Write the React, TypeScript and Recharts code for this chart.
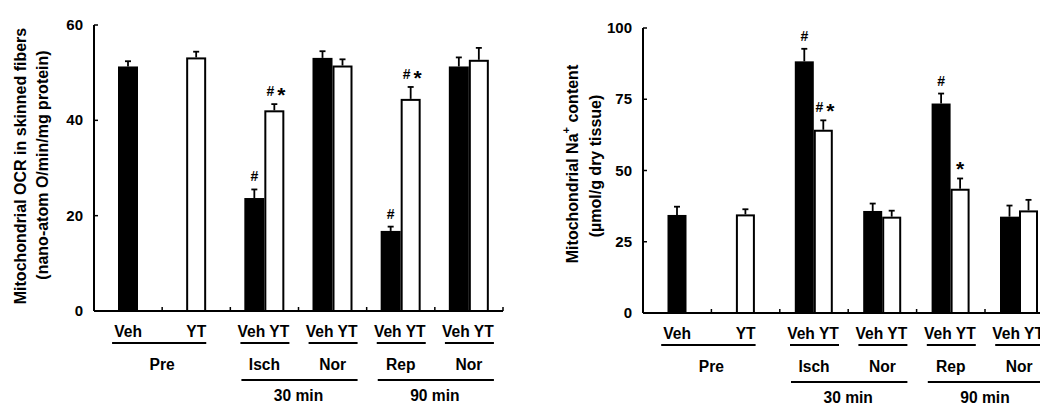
import React from 'react';
import { BarChart, Bar, XAxis, YAxis } from 'recharts';

const categories = ['PreVeh', 'PreYT', 'Isch30', 'Nor30', 'Rep90', 'Nor90'];
const conditionLabels = ['Veh', 'YT', 'Veh YT', 'Veh YT', 'Veh YT', 'Veh YT'];
const groupLabels = ['Pre', '', 'Isch', 'Nor', 'Rep', 'Nor'];
const timeLabels = ['', '', '30 min', '', '90 min', ''];

const ocrVeh = [51.3, null, 23.7, 53.1, 16.8, 51.3];
const ocrVehErr = [1.1, 0, 1.8, 1.4, 0.9, 1.9];
const ocrYT = [null, 53.2, 42.1, 51.5, 44.5, 52.7];
const ocrYTErr = [0, 1.2, 1.3, 1.3, 2.5, 2.5];
const ocrVehSig = ['', '', '#', '', '#', ''];
const ocrYTSig = ['', '', '#*', '', '#*', ''];
const ocrTicks = [0, 20, 40, 60];

const naVeh = [34.4, null, 88.3, 35.8, 73.5, 33.8];
const naVehErr = [2.9, 0, 4.4, 2.6, 3.5, 3.9];
const naYT = [null, 34.6, 64.3, 33.8, 43.6, 36.0];
const naYTErr = [0, 1.8, 3.3, 2.1, 3.6, 3.7];
const naVehSig = ['', '', '#', '', '#', ''];
const naYTSig = ['', '', '#*', '', '*', ''];
const naTicks = [0, 25, 50, 75, 100];

const FONT = '"Liberation Sans", Arial, Helvetica, sans-serif';

type Row = {
  cat: string;
  veh: number | null;
  yt: number | null;
  vehErr: number;
  ytErr: number;
  vehSig: string;
  ytSig: string;
};

const buildRows = (
  veh: (number | null)[],
  vehErr: number[],
  yt: (number | null)[],
  ytErr: number[],
  vehSig: string[],
  ytSig: string[]
): Row[] =>
  categories.map((cat, i) => ({
    cat,
    veh: veh[i],
    yt: yt[i],
    vehErr: vehErr[i],
    ytErr: ytErr[i],
    vehSig: vehSig[i],
    ytSig: ytSig[i],
  }));

const ocrRows = buildRows(ocrVeh, ocrVehErr, ocrYT, ocrYTErr, ocrVehSig, ocrYTSig);
const naRows = buildRows(naVeh, naVehErr, naYT, naYTErr, naVehSig, naYTSig);

const Sig = ({ sig, cx, top }: { sig: string; cx: number; top: number }) => {
  const hasHash = sig.includes('#');
  const hasStar = sig.includes('*');
  const both = hasHash && hasStar;
  return (
    <g fontFamily={FONT} fontWeight="bold" fill="#000">
      {hasHash && (
        <text x={both ? cx - 4 : cx} y={top - 8} textAnchor="middle" fontSize={14}>
          #
        </text>
      )}
      {hasStar && (
        <text x={both ? cx + 7 : cx} y={top - 2} textAnchor="middle" fontSize={21}>
          *
        </text>
      )}
    </g>
  );
};

const makeShape = (key: 'veh' | 'yt') => (props: any) => {
  const { x, y, width, height, payload } = props;
  if (!payload) return <g />;
  const val = payload[key];
  if (val == null || !height) return <g />;
  const err = key === 'veh' ? payload.vehErr : payload.ytErr;
  const sig = key === 'veh' ? payload.vehSig : payload.ytSig;
  const otherNull = key === 'veh' ? payload.yt == null : payload.veh == null;
  let bx = x;
  if (otherNull) bx = key === 'veh' ? x + width / 2 : x - width / 2;
  const cx = bx + width / 2;
  const ppu = height / val;
  const errTop = y - err * ppu;
  const black = key === 'veh';
  return (
    <g>
      {err > 0 && (
        <g stroke="#000" strokeWidth={1.8}>
          <line x1={cx} x2={cx} y1={y} y2={errTop} />
          <line x1={cx - 3} x2={cx + 3} y1={errTop} y2={errTop} />
        </g>
      )}
      <rect
        x={bx + 1}
        y={y + 1}
        width={width - 2}
        height={height - 1}
        fill={black ? '#000' : '#fff'}
        stroke="#000"
        strokeWidth={2}
      />
      {sig && <Sig sig={sig} cx={cx} top={errTop} />}
    </g>
  );
};

const YTick = (props: any) => {
  const { x, y, payload } = props;
  return (
    <g>
      <line x1={x} x2={x + 4} y1={y} y2={y} stroke="#000" strokeWidth={1.5} />
      <text
        x={x - 11}
        y={y}
        dy={5}
        textAnchor="end"
        fontFamily={FONT}
        fontWeight="bold"
        fontSize={15}
        fill="#000"
      >
        {payload.value}
      </text>
    </g>
  );
};

const makeXTick = (cw: number) => (props: any) => {
  const { x, y, index } = props;
  const i = index as number;
  const txt = (t: string, tx: number, ty: number) => (
    <text
      x={tx}
      y={ty}
      textAnchor="middle"
      fontFamily={FONT}
      fontWeight="bold"
      fontSize={15.6}
      fill="#000"
    >
      {t}
    </text>
  );
  return (
    <g>
      <line x1={x + cw / 2} x2={x + cw / 2} y1={y} y2={y - 4} stroke="#000" strokeWidth={1.5} />
      {txt(conditionLabels[i], i >= 2 ? x - 1 : x, y + 26)}
      {i === 0 && (
        <line x1={x - 16} x2={x + cw + 10} y1={y + 32} y2={y + 32} stroke="#000" strokeWidth={2} />
      )}
      {i === 0 && txt(groupLabels[0], x + cw / 2, y + 59)}
      {i >= 2 && (
        <line x1={x - 24} x2={x + 25} y1={y + 32} y2={y + 32} stroke="#000" strokeWidth={2} />
      )}
      {i >= 2 && txt(groupLabels[i], x, y + 59)}
      {timeLabels[i] && (
        <line x1={x - 23} x2={x + cw + 25} y1={y + 69} y2={y + 69} stroke="#000" strokeWidth={2} />
      )}
      {timeLabels[i] && txt(timeLabels[i], x + cw / 2, y + 90)}
    </g>
  );
};

export default function App() {
  return (
    <div
      style={{
        position: 'absolute',
        left: 0,
        top: 0,
        width: 1040,
        height: 406,
        overflow: 'hidden',
        background: '#fff',
      }}
    >
      <div style={{ position: 'absolute', left: 0, top: 0, width: 520, height: 406 }}>
        <BarChart
          width={520}
          height={406}
          data={ocrRows}
          margin={{ top: 25, right: 17, left: 0, bottom: 0 }}
          barGap={0}
          barSize={20}
        >
          <XAxis
            dataKey="cat"
            height={95}
            interval={0}
            tickSize={0}
            tickMargin={0}
            axisLine={{ stroke: '#000', strokeWidth: 2 }}
            tickLine={false}
            tick={makeXTick(409 / 6)}
          />
          <YAxis
            width={94}
            domain={[0, 60]}
            ticks={ocrTicks}
            interval={0}
            tickSize={0}
            tickMargin={0}
            axisLine={{ stroke: '#000', strokeWidth: 2 }}
            tickLine={false}
            tick={<YTick />}
          />
          <Bar dataKey="veh" isAnimationActive={false} shape={makeShape('veh')} />
          <Bar dataKey="yt" isAnimationActive={false} shape={makeShape('yt')} />
        </BarChart>
        <svg width={60} height={406} style={{ position: 'absolute', left: 0, top: 0 }}>
          <text
            transform="translate(20,166) rotate(-90)"
            textAnchor="middle"
            dominantBaseline="central"
            fontFamily={FONT}
            fontWeight="bold"
            fontSize={16}
            fill="#000"
          >
            Mitochondrial OCR in skinned fibers
          </text>
          <text
            transform="translate(42,165) rotate(-90)"
            textAnchor="middle"
            dominantBaseline="central"
            fontFamily={FONT}
            fontWeight="bold"
            fontSize={16}
            fill="#000"
          >
            (nano-atom O/min/mg protein)
          </text>
        </svg>
      </div>
      <div style={{ position: 'absolute', left: 540, top: 0, width: 540, height: 406 }}>
        <BarChart
          width={540}
          height={406}
          data={naRows}
          margin={{ top: 28, right: 26.6, left: 0, bottom: 0 }}
          barGap={0}
          barSize={19}
        >
          <XAxis
            dataKey="cat"
            height={93}
            interval={0}
            tickSize={0}
            tickMargin={0}
            axisLine={{ stroke: '#000', strokeWidth: 2 }}
            tickLine={false}
            tick={makeXTick(410.4 / 6)}
          />
          <YAxis
            width={103}
            domain={[0, 100]}
            ticks={naTicks}
            interval={0}
            tickSize={0}
            tickMargin={0}
            axisLine={{ stroke: '#000', strokeWidth: 2 }}
            tickLine={false}
            tick={<YTick />}
          />
          <Bar dataKey="veh" isAnimationActive={false} shape={makeShape('veh')} />
          <Bar dataKey="yt" isAnimationActive={false} shape={makeShape('yt')} />
        </BarChart>
        <svg width={80} height={406} style={{ position: 'absolute', left: 0, top: 0 }}>
          <text
            transform="translate(32,164) rotate(-90)"
            textAnchor="middle"
            dominantBaseline="central"
            fontFamily={FONT}
            fontWeight="bold"
            fontSize={16}
            fill="#000"
          >
            Mitochondrial Na
            <tspan fontSize={11} dy={-6}>+</tspan>
            <tspan dy={6}> content</tspan>
          </text>
          <text
            transform="translate(55,166) rotate(-90)"
            textAnchor="middle"
            dominantBaseline="central"
            fontFamily={FONT}
            fontWeight="bold"
            fontSize={16}
            fill="#000"
          >
            (µmol/g dry tissue)
          </text>
        </svg>
      </div>
    </div>
  );
}
